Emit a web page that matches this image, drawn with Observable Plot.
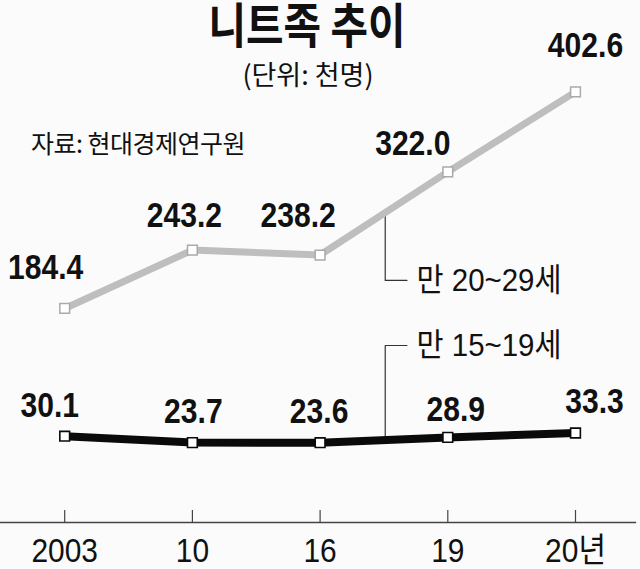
<!DOCTYPE html>
<html>
<head>
<meta charset="utf-8">
<script src="https://cdn.jsdelivr.net/npm/d3@7"></script>
<script src="https://cdn.jsdelivr.net/npm/@observablehq/plot@0.6"></script>
<style>
  body { margin: 0; background: #fbfbfc; }
  #wrap { position: relative; width: 640px; height: 569px; overflow: hidden; }
  .ko { position: absolute; font-family: "Noto Sans CJK KR", sans-serif; color: #111; white-space: nowrap; }
  #title { left: 0; width: 614px; top: 0px; line-height: 44px; text-align: center; font-size: 48px; font-weight: 700; transform: scaleX(0.85); transform-origin: 307px 0; }
  #subtitle { left: 0; width: 616px; top: 59px; text-align: center; font-size: 27px; line-height: 30px; }
  #source { left: 31px; top: 127px; font-size: 25px; line-height: 30px; letter-spacing: -0.5px; }
  #chart { position: absolute; left: 0; top: 0; }
</style>
</head>
<body>
<div id="wrap">
  <div id="chart"></div>
  <div id="title" class="ko">니트족 추이</div>
  <div id="subtitle" class="ko">(단위: 천명)</div>
  <div id="source" class="ko">자료: 현대경제연구원</div>
</div>
<script>
// ---- data ----
const years = ["2003", "10", "16", "19", "20년"];
const age20to29 = [184.4, 243.2, 238.2, 322.0, 402.6];
const age15to19 = [30.1, 23.7, 23.6, 28.9, 33.3];
const seriesLabels = ["만 20~29세", "만 15~19세"];

// leader lines for the series labels, in data units (x = year index, y = value)
const leader20to29 = [{x: 2.51, y: 280.9}, {x: 2.51, y: 212.6}, {x: 2.68, y: 212.6}];
const leader15to19 = [{x: 2.51, y: 26.3}, {x: 2.51, y: 146.2}, {x: 2.68, y: 146.2}];
const seriesLabelPos = [{x: 2.755, y: 212.6}, {x: 2.755, y: 146.2}];

// ---- layout (pixel offsets of value labels) ----
const offsets20to29 = [[-19, -41], [-8, -34], [-22, -39], [-35, -28], [10, -46]];
const offsets15to19 = [[-15, -30], [1, -30.5], [-1, -30.5], [8, -27.5], [19, -31.5]];

const idx = years.map((_, i) => i);
const older = idx.map(i => ({x: i, v: age20to29[i]}));
const younger = idx.map(i => ({x: i, v: age15to19[i]}));

const numFont = "'Liberation Sans', Arial, sans-serif";
const koFont = "'Liberation Sans', 'Noto Sans CJK KR', sans-serif";
const VALUE_SIZE = 35, SERIES_SIZE = 32, AXIS_SIZE = 34;

function valueLabels(data, offs) {
  return data.map((d, i) => Plot.text([d], {
    x: "x", y: "v", text: d => d.v.toFixed(1),
    dx: offs[i][0], dy: offs[i][1],
    fontSize: VALUE_SIZE, fontWeight: 700, fontFamily: numFont, fill: "#111"
  }));
}

const chart = Plot.plot({
  width: 640,
  height: 569,
  marginTop: 0,
  marginLeft: 0,
  marginRight: 5,
  marginBottom: 47,
  style: {background: "transparent", color: "#111"},
  x: {type: "linear", domain: [0, 4], range: [64.2, 575]},
  y: {type: "linear", domain: [0, 40, 150, 450], range: [465.8, 425.8, 342.1, 44.3], axis: null},
  marks: [
    Plot.frame({anchor: "bottom", stroke: "#444", strokeWidth: 1.3}),
    Plot.tickX(idx, {x: d => d, insetTop: 510, stroke: "#444", strokeWidth: 1.2}),
    Plot.axisX({ticks: idx, tickFormat: i => years[i], tickSize: 0, tickPadding: 15,
      fontSize: AXIS_SIZE, fontFamily: koFont, label: null, fill: "#111"}),
    // leader lines
    Plot.line(leader20to29, {x: "x", y: "y", stroke: "#333", strokeWidth: 1.2}),
    Plot.line(leader15to19, {x: "x", y: "y", stroke: "#333", strokeWidth: 1.2}),
    Plot.text(seriesLabelPos, {x: "x", y: "y", text: (d, i) => seriesLabels[i],
      textAnchor: "start", fontSize: SERIES_SIZE, fontFamily: koFont, fill: "#111"}),
    // series lines
    Plot.line(older, {x: "x", y: "v", stroke: "#bebebf", strokeWidth: 7}),
    Plot.dot(older, {x: "x", y: "v", symbol: "square", r: 5.5, fill: "white", stroke: "#aaaaac", strokeWidth: 1.5}),
    Plot.line(younger, {x: "x", y: "v", stroke: "#0a0a0a", strokeWidth: 8}),
    Plot.dot(younger, {x: "x", y: "v", symbol: "square", r: 5.5, fill: "white", stroke: "#0a0a0a", strokeWidth: 1.6}),
    ...valueLabels(older, offsets20to29),
    ...valueLabels(younger, offsets15to19)
  ]
});

// condensed lettering: horizontal squeeze of text around its own anchor
function squeeze(selector, s) {
  chart.querySelectorAll(selector).forEach(t => {
    const tr = t.getAttribute("transform") || "";
    t.setAttribute("transform", tr + ` scale(${s},1)`);
  });
}
squeeze(`g[aria-label="text"][font-size="${VALUE_SIZE}"] text`, 0.86);
squeeze(`g[aria-label="text"][font-size="${SERIES_SIZE}"] text`, 0.92);
squeeze('g[aria-label="x-axis tick label"] text', 0.88);

document.getElementById("chart").appendChild(chart);
</script>
</body>
</html>
